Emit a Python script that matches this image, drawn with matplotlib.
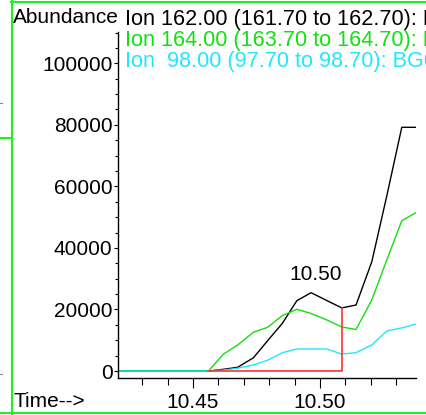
import matplotlib
matplotlib.use('Agg')
import matplotlib.pyplot as plt
from matplotlib.ticker import MultipleLocator, FixedLocator, FormatStrFormatter
from matplotlib.lines import Line2D

plt.rcParams['font.family'] = ['Liberation Sans', 'DejaVu Sans']

# --- data ---
time = [10.4209, 10.4267, 10.4326, 10.4385, 10.4443, 10.4502, 10.4561, 10.4620,
        10.4676, 10.4738, 10.4794, 10.4852, 10.4909, 10.4965, 10.5027, 10.5086,
        10.5142, 10.5204, 10.5263, 10.5322, 10.5381]
ion_162 = [0, 0, 0, 0, 0, 0, 0, 550, 1200, 4300, 9850, 15500, 22850, 25450,
           22900, 20500, 21450, 35500, 56900, 79200, 79200]
ion_164 = [0, 0, 0, 0, 0, 0, 0, 5500, 8450, 12600, 14200, 18000, 20050, 18700,
           16600, 14300, 13500, 23100, 36100, 48850, 51600]
ion_98 = [0, 0, 0, 0, 0, 0, 0, 300, 900, 1950, 3500, 5950, 7150, 7150,
          7150, 5500, 5950, 8450, 13000, 14000, 15300]

peak_start = 10.4561
peak_end = 10.5086
peak_end_height = 20500
apex_time = 10.4965
apex_height = 25450
apex_label = '10.50'

legend_lines = ['Ion 162.00 (161.70 to 162.70): BG0102.D\\data.ms',
                'Ion 164.00 (163.70 to 164.70): BG0102.D\\data.ms',
                'Ion  98.00 (97.70 to 98.70): BG0102.D\\data.ms']
colors = ['black', '#12e012', '#22e6ff']
red = '#ff3030'
frame_green = '#22ee22'

W, H = 426, 415
fs = 15.0
fs_ion = 15.6

fig = plt.figure(figsize=(W / 100, H / 100), dpi=100)
ax = fig.add_axes([118 / W, (H - 378) / H, (416 - 118) / W, (378 - 32) / H])

ax.plot(time, ion_162, color=colors[0], lw=1.0)
ax.plot(time, ion_164, color=colors[1], lw=1.0)
ax.plot(time, ion_98, color=colors[2], lw=1.0)
# the flat start where green and cyan overlap reads as teal
ax.plot(time[:7], ion_164[:7], color='#10d8a0', lw=1.2)

# integration baseline and drop line
ax.plot([peak_start, peak_end, peak_end], [0, 0, peak_end_height], color=red, lw=1.2)

ax.annotate(apex_label, (apex_time, apex_height), xytext=(3, 6), textcoords='offset points',
            ha='center', va='bottom', fontsize=fs)

ax.set_xlim(10.4205, 10.5378)
ax.set_ylim(-2275, 110175)

ax.yaxis.set_major_locator(MultipleLocator(20000))
ax.yaxis.set_minor_locator(MultipleLocator(5000))
ax.yaxis.set_major_formatter(FormatStrFormatter('%d'))
ax.xaxis.set_major_locator(FixedLocator([10.45, 10.50]))
ax.xaxis.set_minor_locator(FixedLocator([10.43, 10.44, 10.46, 10.47, 10.48, 10.49,
                                         10.51, 10.52, 10.53]))
ax.xaxis.set_major_formatter(FormatStrFormatter('%.2f'))

ax.tick_params(axis='y', which='major', length=3, width=0.8, pad=1, labelsize=fs)
ax.tick_params(axis='y', which='minor', length=2, width=0.8)
ax.tick_params(axis='x', which='major', length=7.5, width=0.8, pad=3, labelsize=fs)
ax.tick_params(axis='x', which='minor', length=5, width=0.8)

for side in ['top', 'right']:
    ax.spines[side].set_visible(False)
for side in ['left', 'bottom']:
    ax.spines[side].set_linewidth(1.0)

# header texts
fig.text(13 / W, 1 - 23 / H, 'Abundance', fontsize=fs, va='baseline', ha='left')
for i, (txt, c) in enumerate(zip(legend_lines, colors)):
    fig.text(125 / W, 1 - (25 + 20.8 * i) / H, txt, fontsize=fs_ion, color=c,
             va='baseline', ha='left')
fig.text(13 / W, 1 - 407 / H, 'Time-->', fontsize=fs, va='baseline', ha='left')

# green panel frame
def fig_line(x0, y0, x1, y1, color=frame_green, lw=1.5):
    fig.add_artist(Line2D([x0 / W, x1 / W], [1 - y0 / H, 1 - y1 / H],
                          transform=fig.transFigure, color=color, lw=lw))

fig_line(11.5, 0, 11.5, H)
fig_line(11, 2, W, 2)
fig_line(0, 412.7, W, 412.7)
fig_line(0, 138.5, 11, 138.5)
fig_line(0, 103, 2, 103, color='#888888', lw=0.8)
fig_line(0, 374, 2, 374, color='#888888', lw=0.8)

fig.savefig('out.png', dpi=100)
